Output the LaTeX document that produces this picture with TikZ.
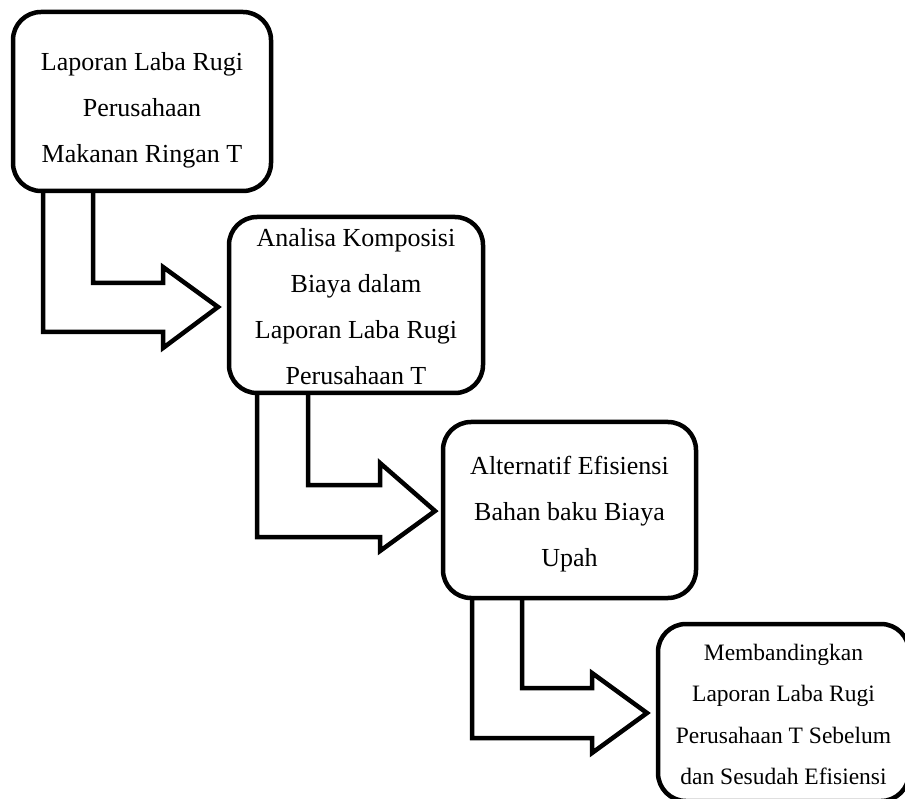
\documentclass[tikz,border=0pt]{standalone}
\usepackage{fontspec}
\setmainfont{Liberation Serif}
\tikzset{
  stepbox/.style={draw=black, line width=4.5pt, fill=white, rounded corners=28pt, inner sep=0pt},
  steptext/.style={align=center, inner sep=0pt, font=\fontsize{26}{46}\selectfont},
  smalltext/.style={align=center, inner sep=0pt, font=\fontsize{23.5}{41.5}\selectfont},
  blockarrow/.style={draw=black, line width=4.5pt, fill=white, line join=miter}
}
\begin{document}
\begin{tikzpicture}[x=1pt,y=-1pt]
\useasboundingbox (0,0) rectangle (905,799);
\clip (0,0) rectangle (905,799);
% block arrows (drawn first, boxes cover their tops)
\coordinate (a1) at (43,185);
\draw[blockarrow] (a1) -- (43,332) -- (163,332) -- (163,348) -- (218,307) -- (163,267) -- (163,283) -- (93,283) -- (93,185) -- cycle;
\coordinate (a2) at (257,388);
\draw[blockarrow] (a2) -- (257,537) -- (380,537) -- (380,551) -- (435,511) -- (380,463) -- (380,485) -- (308,485) -- (308,388) -- cycle;
\coordinate (a3) at (472,590);
\draw[blockarrow] (a3) -- (472,738) -- (592,738) -- (592,753) -- (647,713) -- (592,673) -- (592,688) -- (522,688) -- (522,590) -- cycle;
% boxes
\node[stepbox, minimum width=258pt, minimum height=179pt,
  label={[name=t1, steptext, yshift=-9pt]center:Laporan Laba Rugi\\Perusahaan\\Makanan Ringan T}] (b1) at (142,101.5) {};
\node[stepbox, minimum width=254pt, minimum height=176pt,
  label={[name=t2, steptext, yshift=-2pt]center:Analisa Komposisi\\Biaya dalam\\Laporan Laba Rugi\\Perusahaan T}] (b2) at (356,305) {};
\node[stepbox, minimum width=253pt, minimum height=176pt,
  label={[name=t3, steptext, yshift=-4pt]center:Alternatif Efisiensi\\Bahan baku Biaya\\Upah}] (b3) at (569.5,510) {};
\node[stepbox, minimum width=251pt, minimum height=177pt,
  label={[name=t4, smalltext, yshift=-2pt]center:Membandingkan\\Laporan Laba Rugi\\Perusahaan T Sebelum\\dan Sesudah Efisiensi}] (b4) at (783.5,712.5) {};
\end{tikzpicture}
\end{document}
